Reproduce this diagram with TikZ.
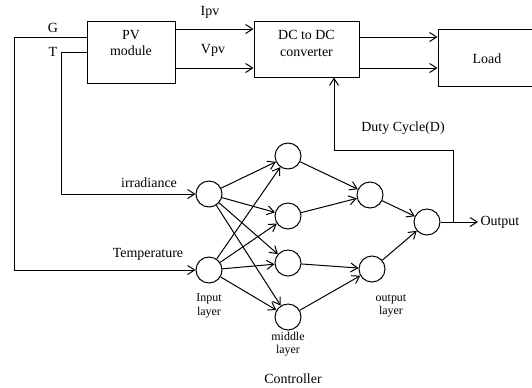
\documentclass[tikz,border=0pt]{standalone}
\usepackage{fontspec}
\setmainfont{Liberation Serif}
\usetikzlibrary{arrows.meta}
\begin{document}
\begin{tikzpicture}[x=1bp,y=-1bp,
  line width=1bp,
  arr/.style={-{Straight Barb[length=7bp,width=9bp]}},
  blk/.style={draw, inner sep=0pt},
  neuron/.style={draw, circle, minimum size=26bp, inner sep=0pt},
  lbl/.style={font=\fontsize{14}{17}\selectfont, inner sep=0pt, align=center},
  sml/.style={font=\fontsize{12}{13.5}\selectfont, inner sep=0pt, align=center}]
\useasboundingbox (0,0) rectangle (532,387);
% blocks
\node[blk, minimum width=88bp, minimum height=62bp] (pv) at (131,52) {};
\node[lbl] (pvt) at (131,43) {PV\\module};
\node[blk, minimum width=105bp, minimum height=56bp] (conv) at (306.5,49) {};
\node[lbl] (convt) at (306.5,43) {DC to DC\\converter};
\node[blk, minimum width=96bp, minimum height=57bp] (load) at (486,57.5) {};
\node[lbl] (loadt) at (487,59) {Load};
% neurons
\node[neuron] (i1) at (209,194) {};
\node[neuron] (i2) at (209,270) {};
\node[neuron] (m1) at (288,156) {};
\node[neuron] (m2) at (288,216) {};
\node[neuron] (m3) at (288,263) {};
\node[neuron] (m4) at (288,317) {};
\node[neuron] (o1) at (370,195) {};
\node[neuron] (o2) at (372,269) {};
\node[neuron] (f) at (427,222) {};
% helper coordinates
\coordinate (yG) at (0,37);
\coordinate (yI) at (0,29);
\coordinate (yV) at (0,68);
\coordinate (xG) at (14,0);
\coordinate (xT) at (61,0);
\coordinate (J) at (453,222);
\coordinate (D1) at (453,150);
\coordinate (D2) at (334,150);
\coordinate (xD) at (334,0);
\coordinate (outend) at (478,222);
% PV -> converter
\draw[arr] (pv.east |- yI) -- (conv.west |- yI);
\draw[arr] (pv.east |- yV) -- (conv.west |- yV);
\node[lbl] (ipv) at (210,12) {Ipv};
\node[lbl] (vpv) at (213,50) {Vpv};
% converter -> load
\draw[arr] (conv.east |- yG) -- (load.west |- yG);
\draw[arr] (conv.east |- yV) -- (load.west |- yV);
% G and T lines
\draw[arr] (pv.west |- yG) -- (xG |- yG) |- (i2.west);
\draw[arr] (pv.west) -- (xT |- pv.west) |- (i1.west);
\node[lbl] (G) at (53,28) {G};
\node[lbl] (T) at (53,52) {T};
\node[lbl] (irr) at (149,183) {irradiance};
\node[lbl] (temp) at (148,254) {Temperature};
% input -> middle
\foreach \a in {i1,i2}{
  \foreach \b in {m1,m2,m3,m4}{
    \draw[arr] (\a) -- (\b);
  }
}
% middle -> output
\draw[arr] (m1) -- (o1);
\draw[arr] (m2) -- (o1);
\draw[arr] (m3) -- (o2);
\draw[arr] (m4) -- (o2);
\draw[arr] (o1) -- (f);
\draw[arr] (o2) -- (f);
% output
\draw[arr] (f.east) -- (outend);
\node[lbl, anchor=west] (outt) at (480,222) {Output};
% duty cycle feedback
\draw[arr] (J) -- (D1) -- (D2) -- (conv.south -| xD);
\node[lbl] (duty) at (403,128) {Duty Cycle(D)};
% layer labels
\node[sml] (inl) at (209,306) {Input\\layer};
\node[sml] (midl) at (288,344) {middle\\layer};
\node[sml] (outl) at (391,306) {output\\layer};
\node[lbl] (ctrl) at (293,379) {Controller};
\end{tikzpicture}
\end{document}
